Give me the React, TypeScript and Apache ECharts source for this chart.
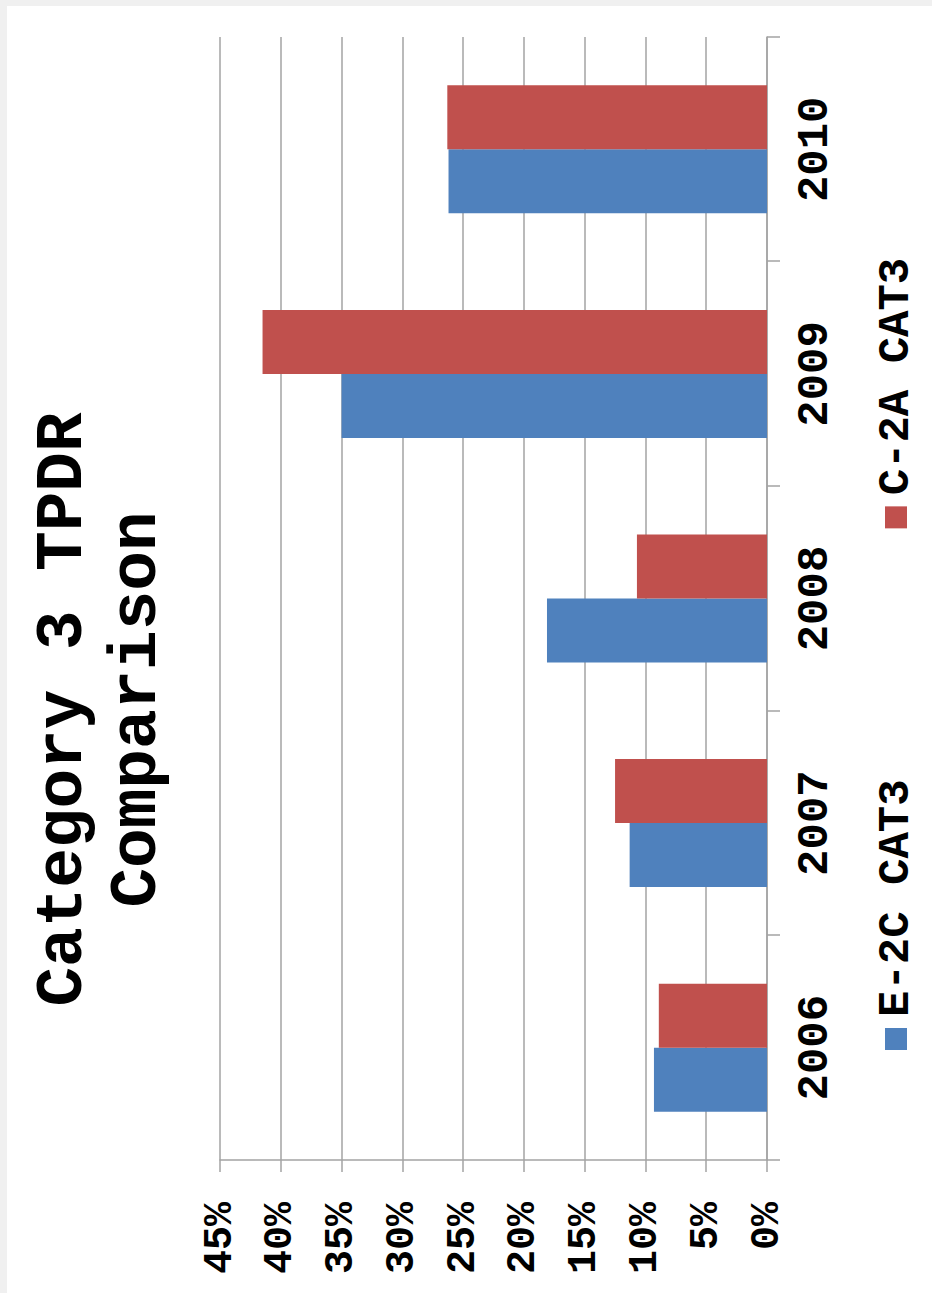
import React, { useEffect, useRef } from "react";
import * as echarts from "echarts";

// Category 3 TPDR comparison by year (percent)
const years = ["2006", "2007", "2008", "2009", "2010"];
const e2cCat3 = [9.3, 11.3, 18.1, 35.0, 26.2];
const c2aCat3 = [8.9, 12.5, 10.7, 41.5, 26.3];
const seriesNames = ["E-2C CAT3", "C-2A CAT3"];
const seriesColors = ["#4F81BD", "#C0504D"];
const titleLines = ["Category 3 TPDR", "Comparison"];

// The chart is laid out upright (W x H) and then turned a quarter turn
// counter-clockwise so it fills the tall page.
const W = 1293;
const H = 932;
const FONT = '"Liberation Mono", "Courier New", monospace';
const GRID_GRAY = "#a3a3a3";

export default function App() {
  const ref = useRef<HTMLDivElement | null>(null);

  useEffect(() => {
    if (!ref.current) return;
    const chart = echarts.init(ref.current, undefined, {
      renderer: "svg",
      width: W,
      height: H,
    });

    chart.setOption({
      animation: false,
      backgroundColor: "#ffffff",
      grid: { left: 133, right: 37, top: 220, bottom: 165, containLabel: false },
      graphic: [
        {
          type: "text",
          x: 583.5,
          y: 26,
          style: {
            text: titleLines.join("\n"),
            font: `bold 66px ${FONT}`,
            fill: "#000000",
            align: "center",
            verticalAlign: "top",
            lineHeight: 74,
          },
        },
      ],
      legend: {
        data: seriesNames,
        orient: "horizontal",
        left: 238,
        top: 869,
        itemWidth: 22,
        itemHeight: 22,
        itemGap: 251,
        icon: "rect",
        textStyle: {
          fontFamily: FONT,
          fontWeight: "bold",
          fontSize: 44,
          color: "#000000",
          padding: [0, 0, 0, 6],
        },
      },
      xAxis: {
        type: "category",
        data: years,
        axisLine: { show: true, lineStyle: { color: GRID_GRAY, width: 1.5 } },
        axisTick: { show: true, length: 13, lineStyle: { color: GRID_GRAY, width: 1.5 } },
        axisLabel: {
          margin: 26,
          fontFamily: FONT,
          fontWeight: "bold",
          fontSize: 44,
          color: "#000000",
          interval: 0,
        },
      },
      yAxis: {
        type: "value",
        min: 0,
        max: 45,
        interval: 5,
        axisLine: { show: true, lineStyle: { color: GRID_GRAY, width: 1.5 } },
        axisTick: { show: true, length: 12, lineStyle: { color: GRID_GRAY, width: 1.5 } },
        splitLine: { show: true, lineStyle: { color: GRID_GRAY, width: 1.5 } },
        axisLabel: {
          formatter: "{value}%",
          margin: 42,
          fontFamily: FONT,
          fontWeight: "bold",
          fontSize: 40,
          color: "#000000",
        },
      },
      series: [
        {
          name: seriesNames[0],
          type: "bar",
          data: e2cCat3,
          itemStyle: { color: seriesColors[0] },
          barGap: "0%",
          barCategoryGap: "43%",
        },
        {
          name: seriesNames[1],
          type: "bar",
          data: c2aCat3,
          itemStyle: { color: seriesColors[1] },
          barGap: "0%",
          barCategoryGap: "43%",
        },
      ],
    });

    return () => {
      chart.dispose();
    };
  }, []);

  return (
    <div
      style={{
        position: "absolute",
        left: 0,
        top: 0,
        width: 932,
        height: 1293,
        overflow: "hidden",
        background: "#ffffff",
      }}
    >
      <div
        ref={ref}
        style={{
          position: "absolute",
          left: 0,
          top: 0,
          width: W,
          height: H,
          transformOrigin: "0 0",
          transform: `translate(0px, ${W}px) rotate(-90deg)`,
        }}
      />
      <div
        style={{
          position: "absolute",
          left: 0,
          top: 0,
          width: 932,
          height: 6,
          background: "#f0f0f0",
        }}
      />
      <div
        style={{
          position: "absolute",
          left: 0,
          top: 0,
          width: 7,
          height: 1293,
          background: "#f0f0f0",
        }}
      />
    </div>
  );
}
